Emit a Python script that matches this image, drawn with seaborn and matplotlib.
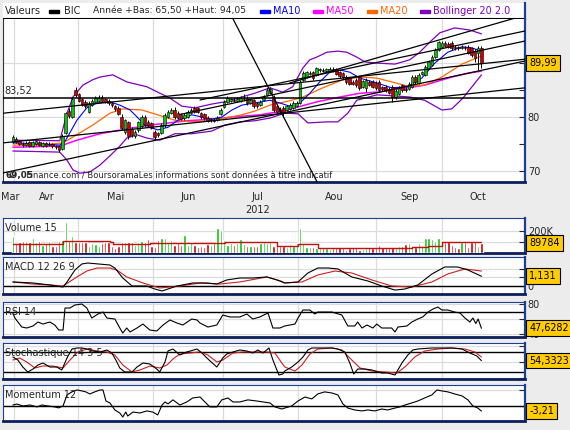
import numpy as np
import seaborn as sns
import matplotlib.pyplot as plt
from matplotlib.patches import Rectangle

# ---- price candles (one per trading day, index 0..142) ----
opens = [75.4, 76.0, 75.5, 75.0, 74.8, 75.3, 74.7, 75.0, 75.4, 74.7,
         75.1, 74.8, 75.0, 74.6, 74.6, 74.0, 77.0, 81.2, 80.0, 85.0,
         84.2, 83.3, 82.8, 81.0, 82.2, 82.8, 83.0, 83.6, 83.3, 83.0,
         82.5, 82.0, 81.7, 80.0, 77.2, 79.0, 77.8, 76.4, 77.5, 78.3,
         80.0, 79.0, 78.8, 77.2, 77.0, 77.0, 78.5, 80.0, 80.8, 81.3,
         80.8, 80.5, 79.8, 80.0, 80.7, 81.7, 81.6, 80.7, 80.5, 79.8,
         79.4, 79.5, 79.5, 80.5, 81.9, 82.8, 83.0, 83.2, 83.0, 83.0,
         83.3, 83.5, 82.6, 83.1, 82.5, 82.3, 83.1, 84.1, 84.5, 83.7,
         82.0, 81.5, 81.7, 81.3, 81.5, 81.7, 82.0, 82.6, 86.9, 87.4,
         88.0, 88.3, 87.8, 88.7, 88.7, 88.6, 88.5, 88.9, 88.8, 88.3,
         88.1, 87.4, 87.2, 86.5, 86.9, 87.4, 85.6, 85.4, 86.5, 86.5,
         86.3, 86.5, 85.5, 85.6, 85.2, 85.6, 83.7, 84.2, 85.9, 85.2,
         85.2, 85.6, 87.4, 86.3, 88.0, 87.8, 89.1, 89.6, 91.1, 92.4,
         93.0, 93.7, 93.5, 93.7, 93.0, 92.9, 92.8, 92.9, 93.0, 92.7,
         92.3, 91.9, 92.8]
highs = [76.6, 76.3, 75.8, 75.3, 75.5, 75.5, 75.6, 75.8, 75.6, 75.4,
         75.3, 75.3, 75.2, 74.9, 74.8, 76.8, 81.0, 81.6, 83.7, 85.5,
         84.5, 83.6, 83.1, 82.9, 83.3, 83.9, 84.0, 84.0, 83.6, 83.3,
         82.8, 82.3, 82.0, 80.5, 79.7, 79.3, 78.1, 77.5, 79.3, 80.3,
         80.4, 79.4, 79.1, 77.5, 77.3, 78.8, 80.7, 81.3, 81.6, 81.8,
         81.1, 80.8, 80.7, 81.3, 81.6, 82.0, 81.9, 81.0, 80.8, 80.1,
         79.9, 79.8, 80.1, 81.6, 83.1, 83.8, 83.6, 83.5, 83.6, 83.8,
         84.2, 83.8, 83.4, 83.4, 82.8, 83.1, 84.0, 85.3, 85.5, 84.0,
         82.3, 81.8, 82.0, 82.3, 82.6, 82.9, 82.9, 86.8, 88.6, 88.6,
         88.5, 88.6, 89.3, 89.0, 89.0, 89.1, 89.3, 89.2, 89.1, 88.6,
         88.4, 87.7, 87.5, 86.8, 87.2, 87.6, 86.9, 87.2, 86.8, 86.8,
         86.6, 86.8, 85.8, 85.9, 85.5, 85.9, 85.1, 85.7, 86.2, 85.5,
         86.5, 87.7, 87.7, 88.1, 88.6, 89.6, 90.5, 91.4, 92.7, 94.05,
         94.0, 94.0, 93.8, 94.0, 93.3, 93.2, 93.3, 93.2, 93.3, 93.0,
         92.6, 93.1, 93.1]
lows = [75.2, 75.2, 74.8, 74.5, 74.6, 74.5, 74.5, 74.8, 74.6, 74.5,
        74.4, 74.6, 74.3, 74.1, 73.5, 73.9, 76.8, 79.9, 79.8, 83.7,
        82.7, 82.0, 81.7, 80.8, 82.0, 82.6, 82.8, 82.7, 82.5, 82.2,
        81.9, 81.2, 80.3, 77.6, 76.9, 76.0, 76.3, 76.1, 77.2, 78.0,
        78.2, 78.2, 77.7, 75.7, 76.3, 76.8, 78.2, 79.8, 80.5, 79.7,
        79.6, 79.4, 79.5, 79.8, 80.5, 80.7, 80.7, 79.7, 79.5, 79.0,
        79.1, 79.0, 79.3, 80.3, 81.7, 82.6, 82.8, 82.7, 82.8, 82.8,
        83.1, 82.3, 82.4, 81.7, 81.7, 82.1, 82.9, 83.9, 84.3, 81.0,
        80.7, 80.6, 80.0, 81.1, 81.3, 81.5, 81.8, 82.4, 86.7, 87.2,
        87.7, 86.9, 87.6, 88.4, 88.3, 88.4, 88.3, 88.3, 87.7, 87.3,
        87.1, 86.2, 85.9, 85.9, 85.6, 85.0, 85.4, 84.6, 85.7, 85.3,
        85.0, 84.7, 84.9, 84.7, 84.2, 82.8, 83.4, 84.0, 84.7, 84.7,
        85.0, 85.4, 86.2, 86.1, 87.8, 87.6, 88.9, 89.4, 90.9, 92.2,
        92.7, 92.9, 92.7, 92.5, 92.5, 92.4, 92.6, 92.4, 91.6, 91.2,
        90.2, 88.7, 89.0]
closes = [76.3, 75.4, 75.0, 74.8, 75.2, 74.7, 75.3, 75.5, 74.9, 75.1,
          74.7, 75.0, 74.6, 74.4, 73.9, 76.5, 80.7, 80.2, 83.4, 84.0,
          83.0, 82.3, 82.0, 82.6, 83.0, 83.6, 83.5, 83.0, 82.8, 82.5,
          82.2, 81.5, 80.6, 78.0, 79.4, 76.5, 76.6, 77.2, 79.0, 80.0,
          78.5, 78.5, 78.0, 76.3, 76.6, 78.5, 80.4, 81.0, 81.3, 80.0,
          79.9, 79.7, 80.4, 81.0, 81.3, 81.0, 81.0, 80.0, 79.8, 79.3,
          79.6, 79.3, 79.8, 81.3, 82.8, 83.5, 83.3, 83.0, 83.3, 83.5,
          83.6, 82.6, 83.1, 82.0, 82.0, 82.8, 83.7, 85.0, 85.2, 81.3,
          81.0, 80.9, 80.7, 82.0, 82.3, 82.6, 82.6, 86.5, 88.1, 88.3,
          88.2, 87.2, 89.0, 88.75, 88.6, 88.8, 88.9, 88.6, 88.0, 87.6,
          87.4, 86.5, 86.2, 86.2, 85.9, 85.4, 86.6, 86.9, 86.0, 85.6,
          85.3, 85.0, 85.2, 85.0, 84.5, 83.7, 84.8, 85.4, 85.0, 85.0,
          86.2, 87.4, 86.5, 87.8, 88.3, 89.3, 90.2, 91.1, 92.4, 93.9,
          93.7, 93.2, 93.0, 92.8, 92.8, 92.7, 93.0, 92.7, 91.9, 91.5,
          91.0, 92.8, 89.99]

# volume in thousands of shares
volume = [158, 88, 103, 109, 109, 103, 133, 103, 109, 73,
          88, 109, 67, 67, 109, 118, 279, 109, 158, 103,
          103, 103, 103, 67, 88, 79, 67, 88, 103, 103,
          67, 42, 67, 103, 97, 97, 103, 73, 97, 109,
          103, 127, 67, 58, 118, 133, 140, 97, 118, 73,
          103, 73, 164, 73, 103, 73, 58, 67, 58, 79,
          73, 88, 224, 209, 118, 73, 88, 73, 88, 127,
          79, 67, 67, 67, 67, 88, 97, 88, 103, 67,
          67, 67, 67, 58, 79, 67, 88, 224, 88, 58,
          58, 58, 42, 42, 42, 42, 36, 48, 58, 58,
          48, 27, 42, 58, 42, 27, 36, 42, 58, 42,
          42, 73, 58, 58, 58, 58, 58, 67, 67, 79,
          88, 67, 58, 88, 73, 133, 133, 127, 109, 140,
          118, 103, 109, 73, 58, 48, 97, 97, 58, 103,
          109, 67, 89.784]
vol_ma_x = [0, 14.2, 15.2, 29.4, 30.3, 41.5, 52.1, 61.8, 64.2, 71.8, 76.4,
            80, 82.4, 86.4, 92.4, 102.7, 118.8, 120.9, 125.8, 130, 137, 142]
vol_ma_y = [82, 82, 109, 103, 82, 88, 88, 88, 100, 103, 103,
            67, 67, 78, 48, 42, 42, 58, 67, 97, 103, 97]

# ---- overlays ----
ma10_x = [0, 8.2, 14.2, 16, 19.4, 22.4, 25.5, 29.4, 32.4, 35.5, 37, 40, 43.9, 47,
          50, 54.2, 57.3, 60.3, 63.3, 66.4, 69.4, 73.3, 77.9, 80.9, 83.9, 87, 90,
          93, 96, 99.1, 102.1, 105.2, 110.3, 114.8, 119.7, 123.9, 127.9, 131.8,
          136.1, 139.1, 142]
ma10_y = [75.2, 75.0, 74.8, 75.7, 79.4, 81.7, 82.6, 82.8, 82.2, 81.3, 80.4, 78.5,
          77.6, 78.1, 79.4, 80.4, 80.0, 79.6, 80.0, 81.3, 82.2, 82.6, 83.1, 82.6,
          82.0, 82.6, 84.4, 86.5, 88.3, 88.7, 88.3, 87.2, 86.3, 85.4, 85.6, 87.2,
          90.0, 92.0, 93.0, 92.8, 92.2]
ma20_x = [0, 8.2, 15.2, 24.2, 29.4, 33.3, 39.1, 43.9, 49.1, 54.2, 59.1, 64.2,
          69.4, 73.3, 77.9, 83.9, 87.9, 93.9, 100, 105.2, 110.3, 114.8, 119.7,
          124.8, 130, 136.1, 142]
ma20_y = [74.8, 74.8, 75.2, 78.5, 80.7, 81.5, 81.3, 80.4, 79.4, 79.1, 79.3, 79.8,
          80.4, 81.1, 82.2, 83.0, 83.7, 85.4, 86.9, 87.4, 87.2, 86.5, 85.7,
          85.9, 87.4, 89.8, 91.3]
ma50_x = [0, 14.2, 19.4, 26.4, 34.5, 41.5, 52.7, 60.6, 66.7, 74.8, 81.8, 92.1,
          99.1, 105.2, 110.3, 119.7, 124.8, 133, 137.9, 142]
ma50_y = [74.4, 74.6, 75.7, 76.9, 77.8, 78.5, 79.3, 79.6, 80.0, 80.4, 81.1, 82.8,
          83.7, 84.4, 84.6, 85.4, 85.9, 87.4, 88.1, 88.5]
bb_up_x = [0, 14.2, 16.4, 18.2, 21.2, 24.2, 26.4, 30.3, 34.5, 40.6, 43.9, 47.6,
           51.2, 55.2, 60.3, 64.2, 68.2, 73.3, 77.9, 81.8, 84.8, 87.9, 90, 92.1,
           95.2, 98.5, 101.2, 104.2, 106.7, 109.7, 115.8, 120.3, 123.3, 126.4,
           129.4, 133.9, 138.5, 142]
bb_up_y = [75.7, 75.6, 80.7, 83.7, 85.9, 86.9, 87.4, 87.8, 86.5, 85.6, 84.6, 83.5,
           82.0, 81.7, 82.4, 82.8, 83.5, 84.4, 85.4, 84.6, 85.6, 89.1, 90.6, 91.1,
           92.0, 92.2, 92.0, 91.1, 90.2, 90.0, 89.8, 90.6, 92.0, 93.9,
           95.6, 96.5, 96.1, 95.4]
bb_lo_x = [0, 14.2, 16.4, 18.2, 20.3, 23.3, 26.4, 29.4, 32.4, 34.5, 37.6, 40.6,
           44.5, 49.1, 54.2, 60.3, 64.2, 68.8, 73.3, 77.9, 82.4, 86.4, 89.4, 95.2,
           98.5, 101.5, 104.2, 110.3, 115.8, 120.3, 124.8, 130, 133, 136.4, 142]
bb_lo_y = [73.7, 73.5, 72.0, 70.2, 69.6, 69.8, 71.1, 72.8, 74.6, 76.1, 76.7, 76.1,
           75.7, 76.9, 76.9, 77.4, 78.5, 79.1, 79.3, 79.8, 80.7, 80.6, 78.9, 79.1,
           79.1, 80.7, 83.1, 84.1, 83.9, 83.7, 83.1, 81.3, 81.5, 83.5, 87.8]

# hand-drawn trend lines (start index, start price, end index, end price)
trend_x0 = [63.9, 83.9, 56.7, 50.6, -3.0, -3.0, -3.0]
trend_y0 = [101.5, 86.3, 83.15, 80.46, 80.7, 75.2, 69.63]
trend_x1 = [93.0, 155.2, 155.2, 155.2, 155.2, 155.2, 155.2]
trend_y1 = [67.0, 98.85, 95.93, 94.07, 90.7, 85.4, 90.37]
support_level = 83.52
low_label = 69.05

# ---- indicators ----
macd_x = [0, 6.1, 11.2, 15.2, 16.4, 18.8, 20.9, 22.7, 29.4, 30.9, 33.3, 36.1, 40.6,
          43, 45.2, 47, 49.7, 54.5, 58.8, 61.8, 64.8, 68.8, 72.7, 77, 80, 82.4,
          86.4, 89.4, 92.4, 95.5, 98.5, 102.7, 107.6, 111.8, 115.8, 118.8, 122.7,
          127, 130.9, 134.8, 137.9, 142]
macd_y = [0.47, 0.35, 0.12, -0.12, 0.47, 1.86, 2.56, 2.67, 2.44, 2.09, 0.93, 0, 0,
          -0.35, -0.58, -0.35, 0, 0.35, 0.35, 0.23, 0.7, 0.93, 0.93, 1.05, 0.7, 0.35,
          0.47, 1.51, 2.09, 2.09, 1.98, 1.05, 0.58, 0, -0.47, -0.35, 0.12,
          1.4, 2.21, 2.21, 1.86, 1.131]
signal_x = [0, 6.1, 11.2, 15.2, 19.4, 22.4, 25.5, 29.4, 31.5, 34.5, 39.4, 44.5, 50.6,
            56.7, 62.7, 68.8, 77, 81.2, 82.4, 87.6, 92.4, 97.6, 102.7, 108.8, 114.8,
            120.9, 127, 131.8, 137, 142]
signal_y = [0.47, 0.23, 0.12, 0, 1.05, 1.74, 2.09, 2.09, 1.86, 1.05, 0.35, -0.23, 0,
            0.35, 0.23, 0.47, 1.05, 0.58, 0.35, 0.47, 1.28, 1.74, 1.51, 0.7, 0,
            -0.12, 0.47, 1.4, 1.98, 1.74]
rsi_x = [0, 0.6, 2.7, 4.2, 6.1, 7.6, 9.1, 11.2, 12.7, 13.9, 15.2, 15.8, 17.3, 18.8,
         20.9, 22.4, 23.9, 25.8, 27.3, 28.5, 30.9, 32.4, 33.3, 34.5, 35.5, 37.6,
         39.4, 41.5, 43.6, 45.5, 47.6, 49.7, 51.5, 54.2, 55.8, 56.7, 59.1, 61.8,
         63.6, 65.8, 68.8, 70.9, 72.7, 74.8, 77.3, 78.8, 80.9, 82.4, 85.5, 86.4,
         87.9, 90, 91.5, 92.4, 96.7, 99.7, 101.5, 103.6, 104.5, 105.8, 107.3,
         109.1, 110.3, 111.8, 114.8, 115.8, 116.7, 119.4, 120.9, 122.7, 124.2,
         125.8, 127.3, 128.8, 130, 131.8, 133.9, 135.5, 137, 138.5, 139.4, 140.3,
         141, 142]
rsi_y = [68, 61.3, 49.3, 48, 50.7, 56, 53.3, 56, 52, 45.3, 45.3, 74.7, 74.7, 78.7,
         80, 74.7, 61.3, 66.7, 69.3, 61.3, 60, 48, 41.3, 48, 42.7, 48,
         53.3, 45.3, 44, 52, 58.7, 54.7, 52, 60, 58.7, 54.7, 49.3, 52,
         65.3, 62.7, 62.7, 66.7, 60, 62.7, 68, 48, 48, 50.7, 53.3, 61.3,
         72, 72, 66.7, 69.3, 69.3, 65.3, 50.7, 50.7, 56, 48, 52,
         48, 53.3, 48, 48, 42.7, 49.3, 50.7, 56, 60, 62.7,
         69.3, 73.3, 76, 72, 72, 69.3, 68, 61.3, 56, 61.3, 54,
         60, 47.6282]
stoch_k_x = [0, 1.5, 3, 4.5, 6.1, 7.6, 9.1, 11.2, 13.3, 14.8, 16.4, 17.9, 19.4,
             20.9, 22.4, 24.2, 26.4, 28.5, 30, 31.2, 32.4, 33.9, 36.1, 37.6, 39.4,
             41.5, 43.6, 44.5, 46.1, 47, 48.5, 50.6, 52.7, 55.8, 57.3, 59.1, 61.8,
             63.6, 64.8, 66.7, 68.8, 70.9, 72.7, 74.2, 75.8, 77.6, 78.8, 80.6, 81.8,
             82.4, 84.5, 86.4, 87.9, 89.4, 90.6, 93.6, 96.7, 98.5, 100.6, 102.1,
             103.3, 104.5, 106.7, 108.8, 111.8, 113.6, 115.8, 117.9, 119.7, 121.2,
             122.7, 127, 130, 133, 136.1, 138.5, 140.6, 142]
stoch_k_y = [65.6, 56.3, 34.4, 18.8, 28.1, 40.6, 46.9, 34.4, 34.4, 25, 62.5, 90.6,
             93.8, 93.8, 90.6, 84.4, 81.3, 87.5, 78.1, 56.3, 31.3, 18.8, 18.8, 34.4,
             46.9, 43.8, 28.1, 18.8, 50, 84.4, 90.6, 71.9, 81.3, 90.6, 78.1, 59.4,
             34.4, 62.5, 75, 81.3, 87.5, 84.4, 78.1, 87.5, 78.1, 93.8, 56.3, 9.4,
             12.5, 21.9, 34.4, 50, 65.6, 87.5, 93.8, 93.8, 93.8, 90.6, 81.3, 46.9,
             12.5, 28.1, 28.1, 25, 15.6, 15.6, 9.4, 46.9, 71.9, 87.5,
             90.6, 93.8, 93.8, 93.8, 90.6, 78.1, 68.8, 54.3323]
stoch_d_x = [0, 2.1, 4.2, 6.7, 9.1, 12.1, 15.2, 17.3, 19.7, 22.4, 25.5, 28.5, 30.9,
             33.3, 36.1, 38.5, 41.5, 44.5, 46.7, 48.5, 50.6, 53.6, 56.7, 59.1, 61.8,
             63.6, 66.7, 69.7, 73.9, 77, 79.4, 81.5, 82.4, 85.5, 87.6, 90, 92.4,
             96.7, 99.7, 102.7, 105.2, 108.8, 112.7, 116.4, 118.8, 121.8, 124.8,
             128.8, 133, 137, 140, 142]
stoch_d_y = [56.3, 62.5, 50, 31.3, 37.5, 37.5, 31.3, 56.3, 81.3, 90.6, 84.4, 81.3,
             71.9, 40.6, 18.8, 25, 37.5, 31.3, 40.6, 59.4, 75, 78.1, 81.3, 71.9, 50,
             56.3, 78.1, 81.3, 81.3, 81.3, 78.1, 46.9, 34.4, 21.9, 40.6, 75, 90.6,
             93.8, 87.5, 56.3, 31.3, 21.9, 18.8, 15.6, 34.4, 65.6, 84.4,
             90.6, 93.8, 90.6, 81.3, 65.6]
mom_x = [0, 1.2, 3, 5.2, 7.3, 8.8, 10.6, 12.7, 13.9, 15.2, 16.4, 17.9, 19.4, 20.9,
         22.1, 23.3, 24.8, 26.4, 27.3, 28.2, 29.4, 30.9, 32.4, 33.3, 34.2, 34.8,
         36.4, 38.5, 40.6, 42.4, 43.9, 45.2, 46.1, 47, 48.5, 50.6, 52.7, 54.5,
         56.7, 58.2, 59.7, 61.8, 63.3, 65.2, 66.7, 68.8, 71.2, 73.9, 75.8, 77.9,
         79.4, 81.5, 82.4, 84.5, 86.4, 88.5, 90.6, 92.4, 94.5, 96.7, 98.5, 100,
         101.5, 103.6, 105.8, 107.6, 109.7, 111.8, 113.6, 115.8, 117.3, 118.8,
         120.9, 122.7, 124.8, 127, 128.5, 130, 131.8, 133.9, 136.1, 137.9, 139.4,
         140.9, 142]
mom_y = [0.6, 1.2, 0, 0.6, -0.6, 0.6, 0, -0.6, -1.2, 0, 6.9, 8.8, 10, 9.4,
         8.8, 7.5, 8.8, 10, 10, 3.1, 1.9, -2.5, -4.4, -6.9, -3.8, -6.3,
         -3.8, -4.4, -3.1, -3.8, -5.6, 0.6, 2.5, 1.3, 3.8, 0.6, 2.5, 5,
         5.6, 2.5, -0.6, -0.6, 3.8, 5, 2.5, 2.5, 3.8, 3.1, 2.5, 1.9,
         -0.6, -1.9, -1.3, 0, 3.1, 5.6, 4.4, 7.5, 8.8, 8.1, 6.9, 1.3,
         -1.3, -2.5, -3.1, -2.5, -3.1, -1.9, -2.5, -1.3, -0.6, 0.6,
         1.9, 3.1, 5, 6.9, 10, 9.4, 8.8, 7.5, 6.3, 3.8, 0,
         -1.3, -3.21]

month_names = ['Mar', 'Avr', 'Mai', 'Jun', 'Jul', 'Aou', 'Sep', 'Oct']
month_mid = [-0.9, 10.3, 31.2, 53.0, 74.2, 97.3, 120.3, 140.9]
month_edges = [0.3, 19.7, 42.4, 63.6, 86.4, 110.0, 130.0]

# ---- style ----
sns.set_style("white")
plt.rcParams['font.family'] = ['DejaVu Sans']

W, H = 570, 430
XLIM = (-3.0, 155.2)
BG = '#ececec'
GRID = '#dcdcdc'
BLUE = '#1c3f94'
NAVY = '#0c1f5c'
GREEN = '#12c012'
RED = '#cc0000'
GOLD = '#ffcc00'
FS = 7

fig = plt.figure(figsize=(5.7, 4.3), dpi=100, facecolor=BG)


def px_axes(x0, y0, x1, y1):
    return fig.add_axes([x0 / W, 1 - y1 / H, (x1 - x0) / W, (y1 - y0) / H])


def frame(ax, top=True):
    ax.spines['left'].set_color(BLUE)
    ax.spines['left'].set_linewidth(0.8)
    ax.spines['top'].set_visible(top)
    ax.spines['top'].set_color(BLUE)
    ax.spines['top'].set_linewidth(0.8)
    ax.spines['right'].set_color(BLUE)
    ax.spines['right'].set_linewidth(1.6)
    ax.spines['bottom'].set_color(NAVY)
    ax.spines['bottom'].set_linewidth(2.0)


def value_box(ax, value, text):
    ax.annotate(text, xy=(1, value), xycoords=('axes fraction', 'data'),
                xytext=(3, 0), textcoords='offset points', ha='left', va='center',
                fontsize=6.9, color='black', annotation_clip=False, zorder=30,
                bbox=dict(boxstyle='square,pad=0.3', fc=GOLD, ec='black', lw=0.8))


def fr(v, nd):
    return f"{v:.{nd}f}".replace('.', ',')


def lower_panel(y0, y1, ylim, ticks, labels, title):
    ax = px_axes(3, y0, 525, y1)
    ax.set_facecolor('white')
    ax.set_xlim(*XLIM)
    ax.set_ylim(*ylim)
    frame(ax)
    for m in month_edges:
        ax.axvline(m, color=GRID, lw=0.9, zorder=0)
    for t in ticks:
        ax.axhline(t, color=GRID, lw=0.9, zorder=0)
    ax.set_xticks([])
    ax.yaxis.tick_right()
    ax.set_yticks(ticks)
    ax.set_yticklabels(labels)
    ax.tick_params(axis='y', direction='in', length=4, width=0.8, labelsize=FS, pad=2)
    ax.text(0.003, 0.72, title, transform=ax.transAxes, fontsize=FS, ha='left',
            va='center', zorder=20)
    return ax


# ---- header row ----
head = px_axes(3, 3, 525, 19)
head.set_facecolor('white')
head.set_xlim(3, 525)
head.set_ylim(19, 3)
head.set_xticks([])
head.set_yticks([])
for s in ['left', 'top', 'bottom']:
    head.spines[s].set_visible(False)
head.spines['right'].set_color(BLUE)
head.spines['right'].set_linewidth(1.6)
head.axhline(18.5, color='black', lw=1.5)
head.text(5, 11, 'Valeurs', fontsize=FS, va='center')
head.add_patch(Rectangle((49, 9.5), 10, 3.5, color='black'))
head.text(64, 11, 'BIC', fontsize=FS, va='center')
head.text(93, 11, 'Année +Bas: 65,50 +Haut: 94,05', fontsize=6.6, va='center')
legend_items = [(260, 'MA10', '#0000ff'), (313, 'MA50', '#ff00ff'),
                (367, 'MA20', '#ff6600'), (420, 'Bollinger 20 2.0', '#8000c0')]
for x, name, col in legend_items:
    head.add_patch(Rectangle((x, 9.5), 10, 3.5, color=col))
    head.text(x + 13, 11, name, fontsize=FS, va='center', color=col)

# ---- price panel ----
ax = px_axes(3, 19, 525, 182)
ax.set_facecolor('white')
ax.set_xlim(*XLIM)
ax.set_ylim(67.96, 98.15)
frame(ax, top=False)
ax.spines['left'].set_color('#333333')
for m in month_edges:
    ax.axvline(m, color=GRID, lw=0.9, zorder=0)
for t in [70, 80, 90]:
    ax.axhline(t, color=GRID, lw=0.9, zorder=0)

sns.lineplot(x=bb_up_x, y=bb_up_y, ax=ax, color='#8000c0', lw=0.9, zorder=2)
sns.lineplot(x=bb_lo_x, y=bb_lo_y, ax=ax, color='#8000c0', lw=0.9, zorder=2)
sns.lineplot(x=ma50_x, y=ma50_y, ax=ax, color='#ff00ff', lw=1.1, zorder=2)
sns.lineplot(x=ma20_x, y=ma20_y, ax=ax, color='#ff6600', lw=0.9, zorder=2)
sns.lineplot(x=ma10_x, y=ma10_y, ax=ax, color='#0000ff', lw=0.8, zorder=2)

o, hi, lo, c = (np.array(a) for a in (opens, highs, lows, closes))
idx = np.arange(len(c))
up = c >= o
ax.vlines(idx, lo, hi, color='black', lw=0.7, zorder=4)
body = np.maximum(np.abs(c - o), 0.12)
ax.bar(idx, body, bottom=np.minimum(o, c), width=0.78,
       color=np.where(up, GREEN, RED), edgecolor='black', lw=0.4, zorder=5)

for x0, y0, x1, y1 in zip(trend_x0, trend_y0, trend_x1, trend_y1):
    ax.plot([x0, x1], [y0, y1], color='black', lw=0.9, zorder=6)
ax.axhline(support_level, color='black', lw=1.1, zorder=6)
ax.annotate(fr(support_level, 2), xy=(0, support_level),
            xycoords=('axes fraction', 'data'), xytext=(1, 1.5),
            textcoords='offset points', fontsize=FS, va='bottom', ha='left')
ax.text(0.004, 0.012, fr(low_label, 2), transform=ax.transAxes, fontsize=6.4,
        va='bottom', ha='left', fontweight='bold', zorder=20)
ax.text(0.004, 0.012, ' \u00a9    Finance.com / BoursoramaLes informations sont données à titre indicatif',
        transform=ax.transAxes, fontsize=6.0, va='bottom', ha='left', zorder=20)

ax.yaxis.tick_right()
ax.set_yticks([70, 80, 90])
ax.set_yticklabels(['70', '80', ''])
ax.set_yticks([75, 85], minor=True)
ax.tick_params(axis='y', which='both', direction='in', length=4, width=0.8,
               labelsize=FS, pad=2)
ax.set_xticks(month_edges)
ax.set_xticklabels([])
ax.set_xticks(month_mid, minor=True)
ax.set_xticklabels(month_names, minor=True)
ax.tick_params(axis='x', which='major', direction='out', length=3, width=0.8)
ax.tick_params(axis='x', which='minor', length=0, labelsize=FS, pad=7)
ax.set_xlabel('')
ax.set_ylabel('')
value_box(ax, closes[-1], fr(closes[-1], 2))
fig.text(258 / W, 1 - 210 / H, '2012', fontsize=FS, ha='center', va='center')

# ---- volume ----
axv = lower_panel(218, 253, (0, 318), [100, 200], ['', '200K'], 'Volume 15')
axv.bar(idx, volume, width=0.7, color=np.where(up, GREEN, RED), zorder=3)
sns.lineplot(x=vol_ma_x, y=vol_ma_y, ax=axv, color='#c01010', lw=1.0, zorder=4,
             drawstyle='steps-post')
value_box(axv, volume[-1], f"{volume[-1] * 1000:.0f}")

# ---- MACD ----
axm = lower_panel(257, 294, (-0.93, 3.37), [0, 1, 2], ['0', '', ''], 'MACD 12 26 9')
axm.axhline(0, color='black', lw=1.0, zorder=1)
sns.lineplot(x=signal_x, y=signal_y, ax=axm, color='#cc2020', lw=0.8, zorder=3)
sns.lineplot(x=macd_x, y=macd_y, ax=axm, color='black', lw=0.8, zorder=4)
value_box(axm, macd_y[-1], fr(macd_y[-1], 3))

# ---- RSI ----
axr = lower_panel(302, 337, (36.0, 82.7), [40, 60, 80], ['40', '', '80'], 'RSI 14')
axr.axhline(70, color='black', lw=1.0, zorder=1)
sns.lineplot(x=rsi_x, y=rsi_y, ax=axr, color='black', lw=0.8, zorder=4)
value_box(axr, rsi_y[-1], fr(rsi_y[-1], 4))

# ---- Stochastic ----
axs = lower_panel(343, 379, (-3.1, 109.4), [0, 50, 100], ['', '', ''],
                  'Stochastique 14 3 5')
axs.axhline(80, color='black', lw=1.0, zorder=1)
axs.axhline(20, color='black', lw=1.0, zorder=1)
sns.lineplot(x=stoch_d_x, y=stoch_d_y, ax=axs, color='#cc2020', lw=0.8, zorder=3)
sns.lineplot(x=stoch_k_x, y=stoch_k_y, ax=axs, color='black', lw=0.8, zorder=4)
value_box(axs, stoch_k_y[-1], fr(stoch_k_y[-1], 4))

# ---- Momentum ----
axo = lower_panel(385, 421, (-9.4, 13.1), [0, 10], ['', ''], 'Momentum 12')
axo.axhline(0, color='black', lw=1.0, zorder=1)
sns.lineplot(x=mom_x, y=mom_y, ax=axo, color='black', lw=0.8, zorder=4)
value_box(axo, mom_y[-1], fr(mom_y[-1], 2))

for a in (ax, axv, axm, axr, axs, axo):
    a.set_xlabel('')
    a.set_ylabel('')

fig.savefig('out.png', dpi=100, facecolor=BG)
